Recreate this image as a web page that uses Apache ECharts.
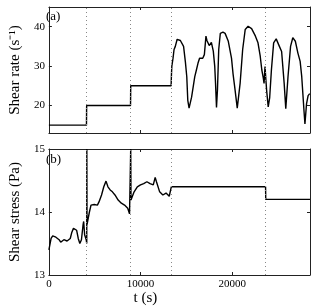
<!DOCTYPE html>
<html>
<head>
<meta charset="utf-8">
<script src="https://cdn.jsdelivr.net/npm/echarts@6/dist/echarts.min.js"></script>
<style>html,body{margin:0;padding:0;background:#fff}#c{width:316px;height:307px}</style>
</head>
<body>
<div id="c"></div>
<script>
// Shear rate (panel a)
var rateT = [0, 4100, 4120, 8910, 8930, 13340, 13380, 13420, 13480, 13550, 13660, 13800, 14000, 14350, 14700, 14900, 15050, 15160, 15300, 15575, 15923, 16100, 16271, 16446, 16600, 16794, 16969, 17143, 17250, 17387, 17500, 17600, 17735, 17944, 18100, 18189, 18293, 18400, 18537, 18711, 19000, 19234, 19582, 19931, 20100, 20280, 20558, 20872, 21150, 21429, 21743, 22126, 22544, 22823, 23067, 23241, 23400, 23485, 23590, 23700, 23764, 23939, 24100, 24288, 24531, 24810, 25158, 25402, 25681, 25855, 26099, 26378, 26622, 26901, 27180, 27424, 27598, 27842, 27947, 28121, 28294, 28470];
var rateV = [15, 15, 20, 20, 25, 25, 28, 30, 30.5, 32, 34.2, 35, 36.8, 36.5, 35, 31, 27.3, 21.3, 19.3, 22.1, 27.3, 29, 30.7, 32, 31.8, 32, 32.9, 37.6, 36.5, 36.3, 35.2, 35, 36, 33.8, 30, 25.6, 19.5, 24, 34.2, 38.3, 38.6, 38.3, 36.3, 32, 28, 24.7, 19.3, 25.6, 34.2, 39.3, 40.1, 39.5, 37.6, 35.9, 32.5, 29, 27, 25.6, 29.9, 26, 23.9, 19.6, 22, 29, 35.9, 36.9, 35, 33.7, 25.6, 19.2, 27.3, 35, 37.2, 36.3, 33.3, 31.2, 27.3, 18.7, 15.3, 20.4, 22.5, 23];
// Shear stress (panel b)
var stressT = [0, 240, 415, 763, 1112, 1286, 1634, 1983, 2331, 2506, 2680, 2854, 3029, 3203, 3377, 3552, 3725, 3795, 3900, 4074, 4130, 4140, 4160, 4248, 4422, 4597, 4945, 5293, 5468, 5747, 5991, 6234, 6444, 6688, 6932, 7211, 7559, 7907, 8256, 8605, 8800, 8884, 8930, 8960, 9127, 9302, 9650, 9998, 10347, 10696, 11044, 11393, 11600, 11741, 12089, 12438, 12787, 13135, 13340, 13360, 23650, 23670, 28500];
var stressV = [13.40, 13.58, 13.62, 13.60, 13.56, 13.52, 13.56, 13.54, 13.58, 13.68, 13.74, 13.75, 13.71, 13.58, 13.50, 13.56, 13.79, 13.85, 13.64, 13.56, 13.50, 15.0, 13.80, 13.82, 14.0, 14.11, 14.12, 14.11, 14.16, 14.27, 14.40, 14.49, 14.40, 14.35, 14.32, 14.27, 14.19, 14.14, 14.11, 14.06, 13.97, 14.0, 15.0, 14.19, 14.22, 14.32, 14.40, 14.43, 14.45, 14.48, 14.45, 14.43, 14.55, 14.48, 14.32, 14.27, 14.30, 14.25, 14.22, 14.40, 14.40, 14.20, 14.20];
// Step change times (dotted lines)
var stepTimes = [4120, 8930, 13360, 23660];
var xTicks = [0, 10000, 20000];
var rateTicks = [20, 30, 40];
var stressTicks = [13, 14, 15];

var font = 'Liberation Serif';
var axisCol = '#222';
function zip(a, b) { return a.map(function (t, i) { return [t, b[i]]; }); }

function xAx(grid, pos, labels, name) {
  return {
    type: 'value', gridIndex: grid, position: pos, min: 0, max: 28500,
    axisLine: { show: true, onZero: false, lineStyle: { color: axisCol, width: 1 } },
    axisTick: { show: true, inside: true, length: 3, customValues: xTicks, lineStyle: { color: axisCol } },
    axisLabel: { show: labels, customValues: xTicks, margin: 4, color: '#000', fontFamily: font, fontSize: 11,
      formatter: function (v) { return String(v); } },
    splitLine: { show: false },
    name: name || '', nameLocation: 'middle', nameGap: 11,
    nameTextStyle: { color: '#000', fontFamily: font, fontSize: 15, padding: [0, 68, 0, 0] }
  };
}
function yAx(grid, pos, min, max, ticks, labels, name, gap) {
  return {
    type: 'value', gridIndex: grid, position: pos, min: min, max: max,
    axisLine: { show: true, onZero: false, lineStyle: { color: axisCol, width: 1 } },
    axisTick: { show: true, inside: true, length: 3, customValues: ticks, lineStyle: { color: axisCol } },
    axisLabel: { show: labels, customValues: ticks, margin: 4, color: '#000', fontFamily: font, fontSize: 11 },
    splitLine: { show: false },
    name: name || '', nameLocation: 'middle', nameGap: gap || 0,
    nameTextStyle: { color: '#000', fontFamily: font, fontSize: 15 }
  };
}
var ml = {
  silent: true, symbol: ['none', 'none'], label: { show: false },
  lineStyle: { color: '#888', type: [1, 3], width: 1 },
  data: stepTimes.map(function (t) { return { xAxis: t }; })
};

var chart = echarts.init(document.getElementById('c'), null, { renderer: 'canvas' });
chart.setOption({
  animation: false,
  backgroundColor: '#fff',
  grid: [
    { left: 38, right: 6, top: 7, height: 126 },
    { left: 38, right: 6, top: 149, height: 126 }
  ],
  xAxis: [
    xAx(0, 'bottom', false),
    xAx(0, 'top', false),
    xAx(1, 'bottom', true, 't (s)'),
    xAx(1, 'top', false)
  ],
  yAxis: [
    yAx(0, 'left', 13, 45, rateTicks, true, 'Shear rate (s⁻¹)', 16),
    yAx(0, 'right', 13, 45, rateTicks, false),
    yAx(1, 'left', 13, 15, stressTicks, true, 'Shear stress (Pa)', 18),
    yAx(1, 'right', 13, 15, stressTicks, false)
  ],
  graphic: [
    { type: 'text', left: 46, top: 10, style: { text: '(a)', font: '13px "Liberation Serif"', fill: '#000' } },
    { type: 'text', left: 46, top: 153, style: { text: '(b)', font: '13px "Liberation Serif"', fill: '#000' } }
  ],
  series: [
    { type: 'line', xAxisIndex: 0, yAxisIndex: 0, data: zip(rateT, rateV), showSymbol: false,
      lineStyle: { color: '#000', width: 1.4 }, markLine: ml },
    { type: 'line', xAxisIndex: 2, yAxisIndex: 2, data: zip(stressT, stressV), showSymbol: false,
      lineStyle: { color: '#000', width: 1.4 }, markLine: ml }
  ]
});
</script>
</body>
</html>
